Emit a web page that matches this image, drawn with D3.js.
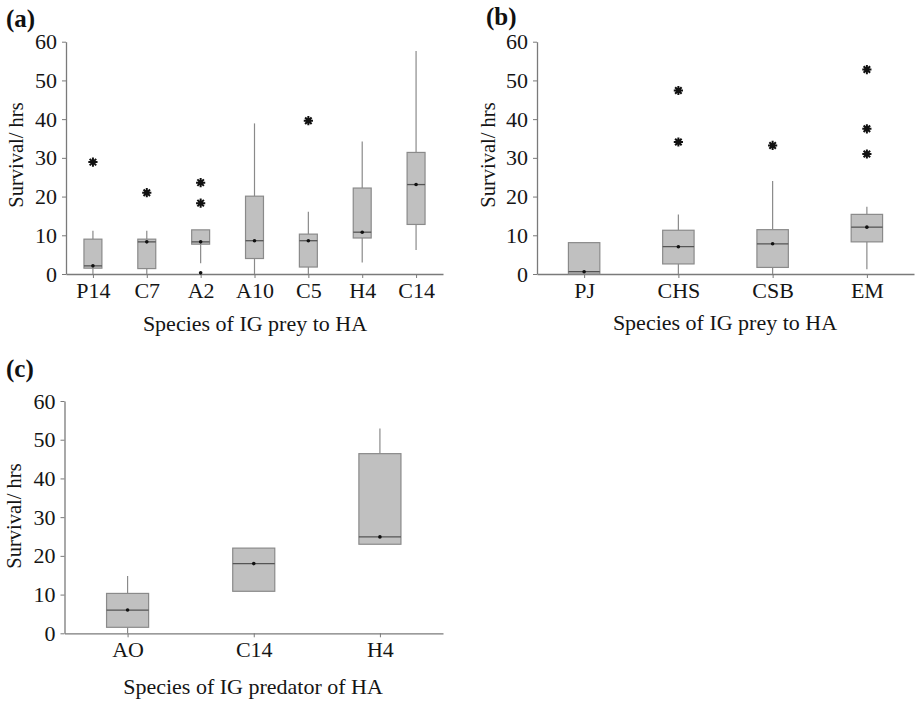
<!DOCTYPE html>
<html><head><meta charset="utf-8">
<script src="https://cdn.jsdelivr.net/npm/d3@7"></script>
<style>body{margin:0;background:#fff}svg{display:block}text{font-family:"Liberation Serif","Times New Roman",serif}</style>
</head><body><svg id="c" width="915" height="701"></svg>
<script>
// Panel (a)
const catsA = ["P14","C7","A2","A10","C5","H4","C14"];
const lowA  = [0, 0, 2.8, 0, 0, 3.0, 6.2];
const q1A   = [1.5, 1.4, 7.7, 4.0, 1.8, 9.3, 12.8];
const medA  = [2.1, 8.3, 8.3, 8.6, 8.6, 10.8, 23.1];
const q3A   = [9.0, 9.0, 11.4, 20.1, 10.3, 22.2, 31.4];
const highA = [11.2, 11.2, 11.4, 38.9, 16.1, 34.2, 57.6];
const outA  = [[28.9],[21.0],[23.6,18.3],[],[39.6],[],[]];
const dotA  = [[],[],[0.3],[],[],[],[]];
// Panel (b)
const catsB = ["PJ","CHS","CSB","EM"];
const lowB  = [0, 0, 0, 1.2];
const q1B   = [0, 2.6, 1.7, 8.3];
const medB  = [0.6, 7.05, 7.8, 12.1];
const q3B   = [8.1, 11.3, 11.45, 15.4];
const highB = [8.1, 15.4, 24.0, 17.4];
const outB  = [[],[47.4,34.1],[33.2],[52.8,37.5,31.0]];
const dotB  = [[],[],[],[]];
// Panel (c)
const catsC = ["AO","C14","H4"];
const lowC  = [0, 10.85, 23.0];
const q1C   = [1.55, 10.85, 23.0];
const medC  = [6.0, 18.0, 24.9];
const q3C   = [10.3, 22.0, 46.4];
const highC = [14.8, 22.0, 52.9];
const outC  = [[],[],[]];
const dotC  = [[],[],[]];

const yTicks = [0,10,20,30,40,50,60];
const yTitle = "Survival/ hrs";

const svg = d3.select("#c");
const AX = "#7a7a7a";
const FONT = "Liberation Serif";

function panel(o){
  const g = svg.append("g");
  const x = d3.scalePoint().domain(o.cats).range([o.x0, o.x1]).padding(0.5);
  const y = d3.scaleLinear().domain([0,60]).range([o.y0, o.y1]);
  const bw = x.step()/3;
  // y axis
  const ya = g.append("g").attr("transform",`translate(${o.x0},0)`)
    .call(d3.axisLeft(y).tickValues(yTicks).tickSize(4).tickSizeOuter(0).tickPadding(5));
  ya.attr("font-family",FONT);
  ya.select(".domain").attr("stroke",AX).attr("stroke-width",1.3);
  ya.selectAll(".tick line").attr("stroke",AX);
  ya.selectAll(".tick text").attr("font-size",22).attr("fill","#151515");
  // x axis
  const xa = g.append("g").attr("transform",`translate(0,${o.y0})`)
    .call(d3.axisBottom(x).tickSize(4).tickSizeOuter(0).tickPadding(4));
  xa.attr("font-family",FONT);
  xa.select(".domain").attr("stroke",AX).attr("stroke-width",1.3);
  xa.selectAll(".tick line").attr("stroke",AX);
  xa.selectAll(".tick text").attr("font-size",22).attr("fill","#151515");
  // boxes
  o.cats.forEach((c,i)=>{
    const cx = x(c);
    if (o.high[i] > o.q3[i]) g.append("line").attr("x1",cx).attr("x2",cx).attr("y1",y(o.q3[i])).attr("y2",y(o.high[i])).attr("stroke","#8a8a8a").attr("stroke-width",1.2);
    if (o.low[i] < o.q1[i]) g.append("line").attr("x1",cx).attr("x2",cx).attr("y1",y(o.q1[i])).attr("y2",y(o.low[i])).attr("stroke","#8a8a8a").attr("stroke-width",1.2);
    g.append("rect").attr("x",cx-bw/2).attr("y",y(o.q3[i])).attr("width",bw).attr("height",y(o.q1[i])-y(o.q3[i]))
      .attr("fill","#c0c0c0").attr("stroke","#8a8a8a").attr("stroke-width",1.2);
    g.append("line").attr("x1",cx-bw/2).attr("x2",cx+bw/2).attr("y1",y(o.med[i])).attr("y2",y(o.med[i])).attr("stroke","#555").attr("stroke-width",1.3);
    g.append("circle").attr("cx",cx).attr("cy",y(o.med[i])).attr("r",1.8).attr("fill","#111");
    o.out[i].forEach(v=>{
      const r=4.6, py=y(v);
      const p = d3.path();
      for (let k=0;k<4;k++){const a=k*Math.PI/4; p.moveTo(cx+r*Math.cos(a),py+r*Math.sin(a)); p.lineTo(cx-r*Math.cos(a),py-r*Math.sin(a));}
      g.append("path").attr("d",p.toString()).attr("stroke","#111").attr("stroke-width",2).attr("fill","none");
    });
    o.dots[i].forEach(v=>{
      g.append("circle").attr("cx",cx).attr("cy",y(v)).attr("r",1.8).attr("fill","#111");
    });
  });
  // titles
  g.append("text").attr("transform",`translate(${o.ytx},${o.ytc}) rotate(-90)`).attr("text-anchor","middle")
    .attr("font-size",20.5).attr("fill","#151515").text(yTitle);
  g.append("text").attr("x",o.xtx).attr("y",o.xty).attr("text-anchor","middle").attr("font-size",22).attr("fill","#151515").text(o.xtitle);
  g.append("text").attr("x",o.lx).attr("y",o.ly).attr("font-size",25).attr("font-weight","bold").attr("fill","#111").text(o.label);
}

panel({cats:catsA,low:lowA,q1:q1A,med:medA,q3:q3A,high:highA,out:outA,dots:dotA,
  x0:66,x1:443,y0:274,y1:41.7,ytx:23,ytc:155,xtx:255,xty:331,xtitle:"Species of IG prey to HA",label:"(a)",lx:6,ly:27});
panel({cats:catsB,low:lowB,q1:q1B,med:medB,q3:q3B,high:highB,out:outB,dots:dotB,
  x0:537,x1:914,y0:274,y1:41.7,ytx:495,ytc:155,xtx:725,xty:330,xtitle:"Species of IG prey to HA",label:"(b)",lx:486,ly:25});
panel({cats:catsC,low:lowC,q1:q1C,med:medC,q3:q3C,high:highC,out:outC,dots:dotC,
  x0:64.5,x1:443,y0:633.3,y1:401,ytx:21,ytc:516,xtx:253,xty:694,xtitle:"Species of IG predator of HA",label:"(c)",lx:6,ly:377});
</script></body></html>
